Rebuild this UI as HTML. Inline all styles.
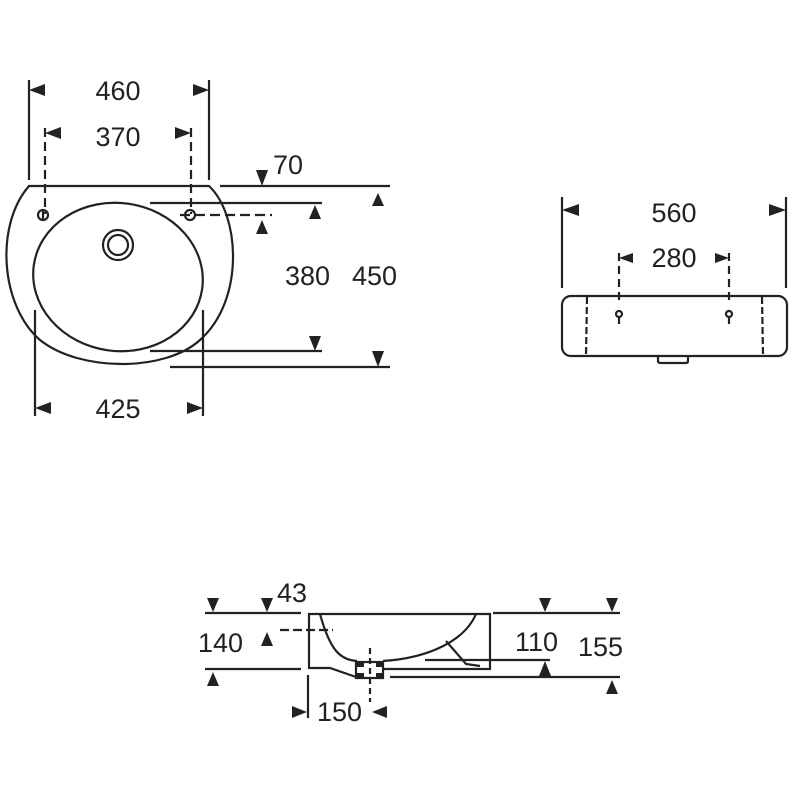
<!DOCTYPE html>
<html><head><meta charset="utf-8"><style>
html,body{margin:0;padding:0;background:#fff;width:800px;height:800px;overflow:hidden}
text{font-family:"Liberation Sans",Arial,sans-serif;fill:#222;font-size:27px}
</style></head><body>
<svg width="800" height="800" viewBox="0 0 800 800" xmlns="http://www.w3.org/2000/svg">
<g stroke="#222" stroke-width="2.2" fill="none">
<line x1="29" y1="80" x2="29" y2="180"/><line x1="209" y1="80" x2="209" y2="180"/>
<line x1="45" y1="128" x2="45" y2="214" stroke-dasharray="9,5"/><line x1="191" y1="128" x2="191" y2="214" stroke-dasharray="9,5"/>
<path d="M29,186 L209,186 C240,215 245,300 200,340 C165,372 80,372 40,340 C0,305 -5,225 29,186 Z"/>
<ellipse cx="118" cy="277" rx="85" ry="74" transform="rotate(8 118 277)"/>
<circle cx="118" cy="245" r="15"/><circle cx="118" cy="245" r="10"/>
<circle cx="43" cy="215" r="5"/><circle cx="190" cy="215" r="5"/>
<line x1="43" y1="211" x2="43" y2="219"/>
<line x1="220" y1="186" x2="390" y2="186"/>
<line x1="150" y1="203" x2="322" y2="203"/>
<line x1="180" y1="215" x2="272" y2="215" stroke-dasharray="10,5"/>
<line x1="150" y1="351" x2="322" y2="351"/>
<line x1="170" y1="367" x2="390" y2="367"/>
<line x1="35" y1="310" x2="35" y2="416"/><line x1="203" y1="310" x2="203" y2="416"/>
<line x1="562" y1="197" x2="562" y2="288"/><line x1="786" y1="197" x2="786" y2="288"/>
<line x1="619" y1="253" x2="619" y2="300" stroke-dasharray="8,5"/><line x1="729" y1="253" x2="729" y2="300" stroke-dasharray="8,5"/>
<rect x="562" y="296" width="225" height="60" rx="9"/>
<line x1="587" y1="297" x2="586" y2="355" stroke-dasharray="7,3"/><line x1="762" y1="297" x2="763" y2="355" stroke-dasharray="7,3"/>
<circle cx="619" cy="314" r="3"/><circle cx="729" cy="314" r="3"/>
<line x1="619" y1="317" x2="619" y2="324"/><line x1="729" y1="317" x2="729" y2="324"/>
<path d="M658,356 L658,361 Q658,363 661,363 L686,363 Q688,363 688,361 L688,356"/>
<line x1="205" y1="613" x2="301" y2="613"/><line x1="493" y1="613" x2="620" y2="613"/>
<line x1="280" y1="630" x2="333" y2="630" stroke-dasharray="9,4"/>
<line x1="205" y1="669" x2="301" y2="669"/>
<path d="M309,669 L309,614 L490,614 L490,669 L383,669"/>
<path d="M309,668 L330,668 L356,677"/>
<path d="M320,614 C330,650 340,660 357,661"/>
<path d="M476,614 C465,640 430,658 383,661"/>
<path d="M446,641 L466,664 L480,666"/>
<rect x="356" y="662" width="27" height="16"/>
<line x1="425" y1="660" x2="550" y2="660"/>
<line x1="390" y1="677" x2="620" y2="677"/>
<line x1="308" y1="675" x2="308" y2="718"/>
<line x1="370" y1="648" x2="370" y2="702" stroke-dasharray="6,4"/>
</g>
<g fill="#222">
<rect x="356" y="662" width="8" height="5"/><rect x="376" y="662" width="8" height="5"/>
<rect x="356" y="673" width="8" height="5"/><rect x="376" y="673" width="8" height="5"/>
<polygon points="29,90 45,84 45,96"/><polygon points="209,90 193,84 193,96"/>
<polygon points="45,133 61,127 61,139"/><polygon points="191,133 175,127 175,139"/>
<polygon points="262,186 256,170 268,170"/>
<polygon points="378,193 372,206 384,206"/>
<polygon points="315,205 309,219 321,219"/>
<polygon points="262,220 256,234 268,234"/>
<polygon points="315,351 309,336 321,336"/>
<polygon points="378,367 372,351 384,351"/>
<polygon points="35,408 51,402 51,414"/><polygon points="203,408 187,402 187,414"/>
<polygon points="562,210 579,204 579,216"/><polygon points="786,210 769,204 769,216"/>
<polygon points="619,258 633,253 633,263"/><polygon points="729,258 715,253 715,263"/>
<polygon points="213,612 207,598 219,598"/><polygon points="267,612 261,598 273,598"/>
<polygon points="267,632 261,646 273,646"/>
<polygon points="213,672 207,686 219,686"/>
<polygon points="545,612 539,598 551,598"/><polygon points="612,612 606,598 618,598"/>
<polygon points="545,661 539,676 551,676"/>
<polygon points="612,680 606,694 618,694"/>
<polygon points="307,712 292,706 292,718"/><polygon points="372,712 387,706 387,718"/>
</g>
<text x="118" y="100" text-anchor="middle">460</text>
<text x="118" y="146" text-anchor="middle">370</text>
<text x="273" y="174">70</text>
<text x="285" y="285">380</text>
<text x="352" y="285">450</text>
<text x="118" y="418" text-anchor="middle">425</text>
<text x="674" y="222" text-anchor="middle">560</text>
<text x="674" y="267" text-anchor="middle">280</text>
<text x="277" y="602">43</text>
<text x="198" y="652">140</text>
<text x="515" y="651">110</text>
<text x="578" y="656">155</text>
<text x="317" y="721">150</text>
</svg>
</body></html>
